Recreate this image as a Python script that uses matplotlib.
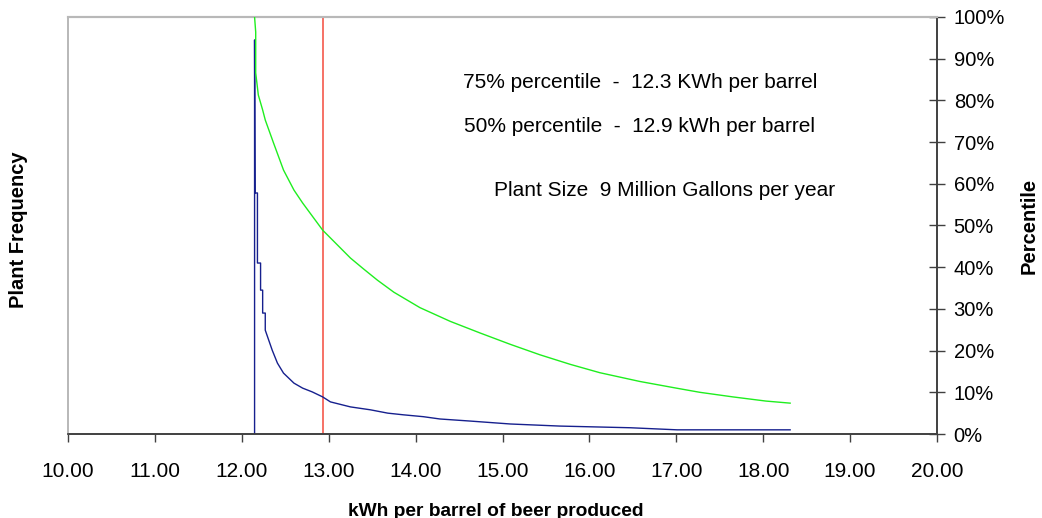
import matplotlib
matplotlib.use("Agg")
import matplotlib.pyplot as plt
from matplotlib.ticker import FixedLocator, FuncFormatter

plt.rcParams['font.family'] = ['Liberation Sans', 'DejaVu Sans']

# Frequency curve (blue, left axis, arbitrary units)
freq_x = [12.147, 12.147, 12.152, 12.18, 12.18, 12.216, 12.216, 12.24, 12.24, 12.27,
          12.27, 12.31, 12.35, 12.41, 12.48, 12.60, 12.70, 12.81, 12.93, 13.02,
          13.25, 13.48, 13.68, 13.86, 14.09, 14.28, 14.63, 15.09, 15.66, 16.47,
          17.01, 18.31]
freq_y = [0.0, 94.5, 57.8, 57.8, 41.0, 41.0, 34.5, 34.5, 29.0, 29.0,
          24.9, 22.5, 20.1, 17.0, 14.6, 12.2, 11.0, 10.1, 8.9, 7.7,
          6.5, 5.8, 5.0, 4.6, 4.15, 3.6, 3.1, 2.4, 1.9, 1.5,
          1.0, 1.0]

# Cumulative percentile curve (green, right axis, %)
pct_x = [12.147, 12.16, 12.16, 12.19, 12.24, 12.27, 12.365, 12.48, 12.60, 12.70,
         12.93, 13.25, 13.40, 13.56, 13.75, 14.05, 14.40, 14.745, 15.09, 15.43,
         15.78, 16.12, 16.58, 17.00, 17.27, 17.65, 18.03, 18.31]
pct_y = [100.0, 96.4, 86.6, 81.3, 77.7, 75.3, 69.8, 63.3, 58.5, 55.4,
         48.9, 42.2, 39.6, 36.9, 34.0, 30.3, 27.0, 24.2, 21.5, 19.0,
         16.7, 14.7, 12.6, 11.0, 10.0, 8.9, 7.9, 7.4]

median_x = 12.93

x_ticks = [10, 11, 12, 13, 14, 15, 16, 17, 18, 19, 20]
pct_ticks = [0, 10, 20, 30, 40, 50, 60, 70, 80, 90, 100]

notes = ["75% percentile  -  12.3 KWh per barrel",
         "50% percentile  -  12.9 kWh per barrel",
         "Plant Size  9 Million Gallons per year"]

W, H = 1042, 518
fig = plt.figure(figsize=(W / 100, H / 100), dpi=100)
L, R, T, B = 68, 937, 17, 434
ax = fig.add_axes([L / W, 1 - B / H, (R - L) / W, (B - T) / H])
ax2 = ax.twinx()

ax.set_xlim(10, 20)
ax.set_ylim(0, 100)
ax2.set_ylim(0, 100)

ax.axvline(median_x, color='#f44a3c', lw=1.1, zorder=2)
ax.plot(freq_x, freq_y, color='#16208e', lw=1.0, zorder=3)
ax2.plot(pct_x, pct_y, color='#1fee1f', lw=1.0, zorder=3)

# spines
for a in (ax, ax2):
    a.spines['top'].set_color('#b8b8b8')
    a.spines['left'].set_color('#b8b8b8')
    a.spines['top'].set_linewidth(1.5)
    a.spines['left'].set_linewidth(1.2)
    a.spines['bottom'].set_color('#404040')
    a.spines['right'].set_color('#404040')
    a.spines['bottom'].set_linewidth(1.2)
    a.spines['right'].set_linewidth(1.2)

ax.set_yticks([])
ax.xaxis.set_major_locator(FixedLocator(x_ticks))
ax.xaxis.set_major_formatter(FuncFormatter(lambda v, p: f"{v:.2f}"))
ax.tick_params(axis='x', direction='out', length=6, width=1.0, color='#404040',
               labelsize=15, pad=14)

ax2.yaxis.set_major_locator(FixedLocator(pct_ticks))
ax2.yaxis.set_major_formatter(FuncFormatter(lambda v, p: f"{v:.0f}%"))
ax2.tick_params(axis='y', direction='inout', length=12, width=1.0, color='#404040',
                labelsize=14.5, pad=6)

# annotations
fig.text(640 / W, 1 - 82 / H, notes[0], ha='center', va='center', fontsize=15)
fig.text(640 / W, 1 - 126 / H, notes[1], ha='center', va='center', fontsize=15)
fig.text(665 / W, 1 - 191 / H, notes[2], ha='center', va='center', fontsize=15)

fig.text(19 / W, 1 - 230 / H, "Plant Frequency", rotation=90, ha='center', va='center',
         fontsize=14.5, fontweight='bold')
fig.text(1029.5 / W, 1 - 226 / H, "Percentile", rotation=90, ha='center', va='center',
         fontsize=14.5, fontweight='bold')
fig.text(496 / W, 1 - 511 / H, "kWh per barrel of beer produced", ha='center', va='center',
         fontsize=13.8, fontweight='bold')

fig.savefig("out.png", dpi=100)
